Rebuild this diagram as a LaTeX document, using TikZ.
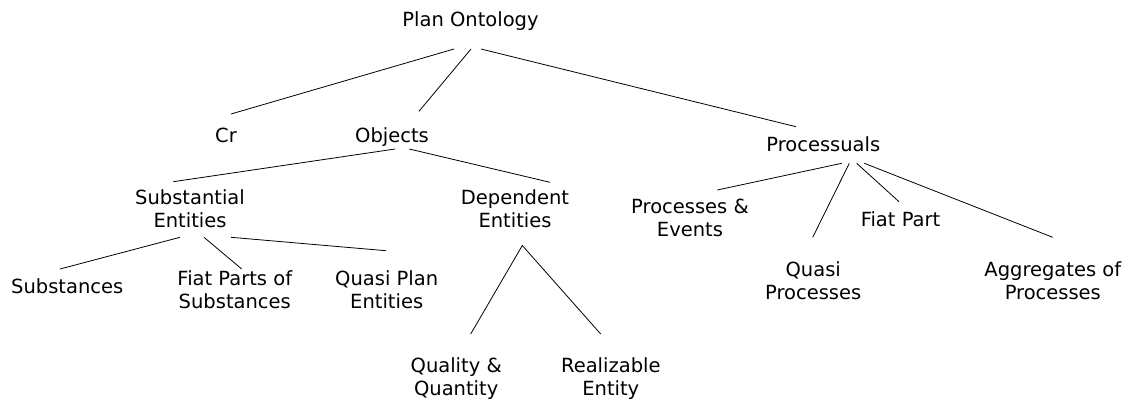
\documentclass[tikz,border=0pt]{standalone}
\usepackage{fontspec}
\setmainfont{DejaVu Sans}
\newcommand\twoline[2]{\begin{tabular}[t]{@{}c@{}}#1\\#2\end{tabular}}
\begin{document}
\begin{tikzpicture}[x=1pt,y=-1pt,
  lbl/.style={anchor=base,inner sep=0pt,text=black,
    font=\fontsize{19.5}{23}\selectfont},
  link/.style={draw=black,line width=0.8pt}]
\useasboundingbox (0,0) rectangle (1126,400);

% labels (positioned at the baseline of their first line)
\node[lbl] (po)   at (470.5,26.7) {Plan Ontology};
\node[lbl] (cr)   at (226,142.5)  {Cr};
\node[lbl] (obj)  at (392,142.5)  {Objects};
\node[lbl] (proc) at (823.3,151.7) {Processuals};
\node[lbl] (sub)  at (190,204)    {\twoline{Substantial}{Entities}};
\node[lbl] (dep)  at (515,204)    {\twoline{Dependent}{Entities}};
\node[lbl] (subs) at (67.2,293.3) {Substances};
\node[lbl] (fps)  at (234.8,285)  {\twoline{Fiat Parts of}{Substances}};
\node[lbl] (qpe)  at (386.7,285)  {\twoline{Quasi Plan}{Entities}};
\node[lbl] (qq)   at (456.2,372.7) {\twoline{Quality \&}{Quantity}};
\node[lbl] (re)   at (610.8,372.7) {\twoline{Realizable}{Entity}};
\node[lbl] (pe)   at (690,213.3)  {\twoline{Processes \&}{Events}};
\node[lbl] (fp)   at (900.5,226)  {Fiat Part};
\node[lbl] (qp)   at (813.2,276.7) {\twoline{Quasi}{Processes}};
\node[lbl] (agg)  at (1052.8,276.7) {\twoline{Aggregates of}{Processes}};

% connector end points
\coordinate (po-cr)   at (454,49);    \coordinate (cr-t)   at (231,114);
\coordinate (po-obj)  at (471,49);    \coordinate (obj-t)  at (419,111.3);
\coordinate (po-proc) at (481,49);    \coordinate (proc-t) at (796,126.7);
\coordinate (obj-sub) at (395,149);   \coordinate (sub-t)  at (173.3,181.7);
\coordinate (obj-dep) at (409.3,149); \coordinate (dep-t)  at (550,182.3);
\coordinate (sub-subs) at (180,237.3); \coordinate (subs-t) at (60,269);
\coordinate (sub-fps) at (204,237.3); \coordinate (fps-t)  at (241.7,269);
\coordinate (sub-qpe) at (231,237.3); \coordinate (qpe-t)  at (386,250.7);
\coordinate (dep-b)   at (522.3,245.5);
\coordinate (qq-t)    at (470.7,334); \coordinate (re-t)   at (600.7,334);
\coordinate (proc-pe) at (841.7,163.3); \coordinate (pe-t) at (717.3,190);
\coordinate (proc-qp) at (849.3,163.3); \coordinate (qp-t) at (812.7,237.3);
\coordinate (proc-fp) at (856.7,163.3); \coordinate (fp-t) at (899,201.7);
\coordinate (proc-agg) at (864.3,163.3); \coordinate (agg-t) at (1052.7,237.3);

% tree edges
\draw[link] (po-cr) -- (cr-t);
\draw[link] (po-obj) -- (obj-t);
\draw[link] (po-proc) -- (proc-t);
\draw[link] (obj-sub) -- (sub-t);
\draw[link] (obj-dep) -- (dep-t);
\draw[link] (sub-subs) -- (subs-t);
\draw[link] (sub-fps) -- (fps-t);
\draw[link] (sub-qpe) -- (qpe-t);
\draw[link] (qq-t) -- (dep-b) -- (re-t);
\draw[link] (proc-pe) -- (pe-t);
\draw[link] (proc-qp) -- (qp-t);
\draw[link] (proc-fp) -- (fp-t);
\draw[link] (proc-agg) -- (agg-t);
\end{tikzpicture}
\end{document}
